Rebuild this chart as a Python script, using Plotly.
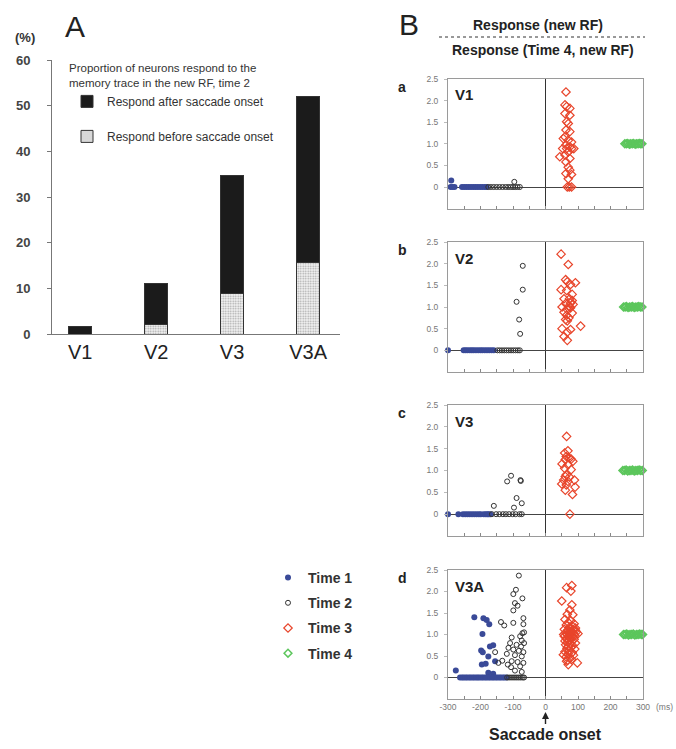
import plotly.graph_objects as go

# ---------------- Panel A data ----------------
REGIONS = ["V1", "V2", "V3", "V3A"]
PCT_TOTAL = [1.7, 11.0, 34.7, 52.1]
PCT_BEFORE = [0.0, 2.1, 8.8, 15.6]
PCT_AFTER = [round(t - b, 2) for t, b in zip(PCT_TOTAL, PCT_BEFORE)]
A_YTICKS = [0, 10, 20, 30, 40, 50, 60]

# ---------------- Panel B data: (ms, normalized response) ----------------
V1_T1 = [(-290, 0.15), (-292, 0), (-286, 0), (-280, 0), (-257, 0), (-250, 0), (-243, 0), (-236, 0),
         (-229, 0), (-222, 0), (-215, 0), (-208, 0), (-201, 0), (-194, 0), (-187, 0), (-181, 0)]
V1_T2 = [(-96, 0.12), (-176, 0), (-168, 0), (-159, 0), (-150, 0), (-141, 0), (-132, 0), (-123, 0),
         (-115, 0), (-107, 0), (-100, 0), (-93, 0), (-86, 0), (-79, 0)]
V1_T3 = [(63, 2.2), (60, 1.9), (65, 1.86), (75, 1.82), (60, 1.7), (75, 1.66), (65, 1.51), (70, 1.47),
         (63, 1.32), (75, 1.28), (60, 1.16), (55, 1.12), (70, 1.08), (80, 1.04), (63, 0.97), (75, 0.93),
         (53, 0.89), (65, 0.89), (80, 0.89), (87, 0.89), (70, 0.81), (60, 0.74), (44, 0.7), (75, 0.66),
         (63, 0.58), (70, 0.46), (75, 0.39), (63, 0.31), (80, 0.29), (70, 0.19), (67, 0), (73, 0), (80, 0)]
V1_T4 = [(244, 1.0), (249, 1.0), (253, 1.01), (258, 0.99), (262, 1.0), (267, 1.0), (271, 1.01),
         (276, 0.99), (280, 1.0), (285, 1.0), (289, 1.01), (293, 1.0), (297, 1.0)]

V2_T1 = [(-300, 0), (-252, 0), (-246, 0), (-240, 0), (-233, 0), (-227, 0), (-221, 0), (-214, 0),
         (-207, 0), (-200, 0), (-194, 0), (-187, 0), (-180, 0), (-173, 0), (-166, 0), (-159, 0)]
V2_T2 = [(-70, 1.95), (-70, 1.4), (-89, 1.12), (-81, 0.71), (-78, 0.38), (-148, 0), (-141, 0),
         (-134, 0), (-127, 0), (-120, 0), (-113, 0), (-106, 0), (-99, 0), (-92, 0), (-85, 0), (-79, 0)]
V2_T3 = [(48, 2.22), (70, 1.98), (62, 1.63), (67, 1.58), (92, 1.56), (77, 1.52), (48, 1.4), (65, 1.38),
         (82, 1.29), (57, 1.19), (74, 1.19), (82, 1.15), (62, 1.08), (77, 1.09), (85, 1.06), (51, 1.0),
         (72, 1.02), (77, 0.98), (75, 1.0), (67, 0.94), (57, 0.88), (82, 0.86), (65, 0.81), (72, 0.75),
         (62, 0.71), (67, 0.68), (51, 0.5), (77, 0.48), (67, 0.42), (108, 0.56), (57, 0.32), (67, 0.23)]
V2_T4 = [(240, 1.0), (245, 1.0), (249, 1.01), (254, 0.99), (259, 1.0), (264, 1.0), (268, 1.01),
         (273, 0.99), (278, 1.0), (283, 1.0), (287, 1.01), (292, 1.0), (297, 1.0)]

V3_T1 = [(-300, 0), (-268, 0), (-254, 0), (-247, 0), (-240, 0), (-233, 0), (-226, 0), (-219, 0),
         (-212, 0), (-205, 0), (-199, 0), (-190, 0), (-184, 0), (-179, 0), (-175, 0), (-170, 0)]
V3_T2 = [(-159, 0.19), (-118, 0.75), (-106, 0.88), (-77, 0.78), (-76, 0.76), (-89, 0.37), (-97, 0.15),
         (-73, 0.25), (-165, 0), (-152, 0), (-142, 0), (-131, 0), (-122, 0), (-112, 0), (-101, 0),
         (-92, 0), (-80, 0), (-73, 0)]
V3_T3 = [(65, 1.78), (69, 1.45), (59, 1.4), (64, 1.32), (74, 1.28), (61, 1.25), (79, 1.26), (84, 1.21),
         (51, 1.15), (69, 1.13), (59, 1.05), (79, 1.02), (64, 0.9), (61, 0.86), (74, 0.85), (56, 0.78),
         (89, 0.78), (69, 0.75), (50, 0.69), (64, 0.67), (91, 0.62), (61, 0.55), (83, 0.45), (75, 0)]
V3_T4 = [(238, 1.0), (243, 1.0), (248, 1.01), (253, 0.99), (258, 1.0), (263, 1.0), (268, 1.01),
         (273, 0.99), (278, 1.0), (283, 1.0), (288, 1.01), (293, 1.0), (298, 1.0)]

V3A_T1 = [(-276, 0.16), (-219, 1.40), (-191, 1.38), (-181, 1.34), (-173, 1.24), (-194, 1.01),
          (-198, 0.63), (-193, 0.59), (-171, 0.72), (-161, 0.75), (-176, 0.49), (-196, 0.30),
          (-184, 0.32), (-155, 0.38), (-176, 0.11), (-161, 0.09),
          (-263, 0), (-257, 0), (-252, 0), (-246, 0), (-241, 0), (-235, 0), (-230, 0), (-224, 0),
          (-219, 0), (-213, 0), (-208, 0), (-203, 0), (-197, 0), (-192, 0), (-186, 0), (-181, 0),
          (-175, 0), (-170, 0), (-164, 0), (-159, 0), (-153, 0), (-148, 0), (-142, 0), (-137, 0),
          (-131, 0), (-126, 0), (-120, 0)]
V3A_T2 = [(-82, 2.37), (-91, 2.04), (-99, 1.94), (-71, 1.84), (-94, 1.73), (-86, 1.67), (-99, 1.56),
          (-68, 1.38), (-137, 1.29), (-127, 1.21), (-99, 1.27), (-68, 1.24), (-71, 1.03), (-66, 1.05),
          (-78, 0.96), (-104, 0.93), (-73, 0.86), (-109, 0.80), (-66, 0.80), (-89, 0.76), (-75, 0.72),
          (-114, 0.69), (-99, 0.65), (-82, 0.62), (-68, 0.59), (-155, 0.59), (-119, 0.55), (-94, 0.52),
          (-73, 0.49), (-133, 0.39), (-145, 0.34), (-104, 0.38), (-86, 0.36), (-68, 0.34), (-116, 0.30),
          (-78, 0.26), (-106, 0.24), (-94, 0.16), (-73, 0.13),
          (-118, 0), (-112, 0), (-106, 0), (-100, 0), (-94, 0), (-88, 0), (-82, 0), (-76, 0), (-70, 0),
          (-66, 0)]
V3A_T3 = [(75, 2.52), (65, 2.09), (81, 2.14), (78, 2.01), (50, 1.78), (81, 1.69), (75, 1.57), (67, 1.47),
          (84, 1.46), (60, 1.35), (78, 1.32), (70, 1.28), (88, 1.25), (64, 1.22), (82, 1.2), (74, 1.17),
          (92, 1.15), (58, 1.12), (68, 1.1), (80, 1.08), (95, 1.06), (62, 1.04), (72, 1.03), (78, 1.02),
          (86, 1.01), (66, 1.0), (74, 0.99), (90, 0.98), (58, 0.96), (70, 0.95), (82, 0.94), (76, 0.92),
          (64, 0.9), (88, 0.89), (72, 0.87), (60, 0.85), (80, 0.84), (68, 0.82), (92, 0.8), (75, 0.78),
          (62, 0.76), (84, 0.74), (70, 0.72), (78, 0.7), (66, 0.68), (90, 0.66), (73, 0.63), (60, 0.6),
          (82, 0.58), (70, 0.55), (86, 0.52), (64, 0.48), (76, 0.45), (80, 0.42), (68, 0.4), (92, 1.1),
          (56, 1.0), (100, 1.02), (84, 1.12), (77, 1.05), (69, 1.06), (73, 0.97), (81, 0.98), (55, 0.53),
          (65, 0.38), (70, 0.30), (98, 0.34)]
V3A_T4 = [(240, 1.0), (245, 1.0), (250, 1.01), (255, 0.99), (260, 1.0), (265, 1.0), (270, 1.01),
          (275, 0.99), (280, 1.0), (285, 1.0), (290, 1.01), (295, 1.0), (299, 1.0)]

PANELS = [
    ("a", "V1", V1_T1, V1_T2, V1_T3, V1_T4),
    ("b", "V2", V2_T1, V2_T2, V2_T3, V2_T4),
    ("c", "V3", V3_T1, V3_T2, V3_T3, V3_T4),
    ("d", "V3A", V3A_T1, V3A_T2, V3A_T3, V3A_T4),
]
MS_TICKS = [-300, -250, -200, -150, -100, -50, 0, 50, 100, 150, 200, 250, 300]
MS_LABELS = ["-300", "", "-200", "", "-100", "", "0", "", "100", "", "200", "", "300"]
RESP_TICKS = [0, 0.5, 1.0, 1.5, 2.0, 2.5]
RESP_LABELS = ["0", "0.5", "1.0", "1.5", "2.0", "2.5"]
TIME_NAMES = ["Time 1", "Time 2", "Time 3", "Time 4"]

W, H = 676, 749
FONT = "Liberation Sans, Arial, sans-serif"


def px(x):
    return x / W


def py(y):
    return 1 - y / H


TIME_STYLE = [
    dict(symbol="circle", color="#3a4a98", size=6, line=dict(width=0)),
    dict(symbol="circle-open", color="#333333", size=5, line=dict(width=1, color="#333333")),
    dict(symbol="diamond-open", color="#e8452b", size=6.5, line=dict(width=1.2, color="#e8452b")),
    dict(symbol="diamond-open", color="#5cc65c", size=6, line=dict(width=1.5, color="#5cc65c")),
]

fig = go.Figure()

# Panel A bars
fig.add_trace(go.Bar(
    x=REGIONS, y=PCT_BEFORE, name="Respond before saccade onset", width=0.3,
    marker=dict(color="#f2f2f2", line=dict(color="#333", width=1),
                pattern=dict(shape=".", fgcolor="#555", bgcolor="#f6f6f6", size=2.5, solidity=0.4)),
    legend="legend", legendrank=2, legendgroup="before", xaxis="x", yaxis="y"))
fig.add_trace(go.Bar(
    x=REGIONS, y=PCT_AFTER, name="Respond after saccade onset", width=0.3,
    marker=dict(color="#1b1b1b", line=dict(color="#333", width=1)),
    legend="legend", legendrank=1, legendgroup="after", xaxis="x", yaxis="y"))

# Panel B scatters
SUB_Y = [(79, 208.6), (242, 372), (405, 536), (570, 699)]
annotations = []


def ann(text, x, y, size, xanchor="center", yanchor="middle", color="#222", **kw):
    d = dict(text=text, x=px(x), y=py(y), xref="paper", yref="paper", showarrow=False,
             xanchor=xanchor, yanchor=yanchor, font=dict(size=size, color=color, family=FONT))
    d.update(kw)
    return d


for i, (letter, region, t1, t2, t3, t4) in enumerate(PANELS):
    k = i + 2
    for j, series in enumerate([t1, t2, t3, t4]):
        st = TIME_STYLE[j]
        fig.add_trace(go.Scatter(
            x=[p[0] for p in series], y=[p[1] for p in series], mode="markers",
            name=TIME_NAMES[j], marker=dict(symbol=st["symbol"], color=st["color"], size=st["size"],
                                             line=st["line"]),
            showlegend=(i == 0), legend="legend2", legendrank=j + 1, legendgroup="t%d" % j,
            xaxis="x%d" % k, yaxis="y%d" % k, cliponaxis=False))
    top, bot = SUB_Y[i]
    last = (i == 3)
    fig.update_layout(**{
        "xaxis%d" % k: dict(domain=[px(448), px(643)], range=[-300, 300], anchor="y%d" % k,
                            showline=True, mirror=True, linecolor="#9a9a9a", linewidth=1,
                            zeroline=True, zerolinecolor="#333", zerolinewidth=1, showgrid=False,
                            tickvals=MS_TICKS, ticktext=MS_LABELS, ticks="inside", ticklen=3,
                            tickcolor="#888", showticklabels=last,
                            tickfont=dict(size=8.5, color="#777", family=FONT)),
        "yaxis%d" % k: dict(domain=[py(bot), py(top)], range=[-0.5, 2.5], anchor="x%d" % k,
                            showline=True, mirror=True, linecolor="#9a9a9a", linewidth=1,
                            zeroline=True, zerolinecolor="#444", zerolinewidth=1, showgrid=False,
                            tickvals=RESP_TICKS, ticktext=RESP_LABELS, ticks="outside", ticklen=3,
                            tickcolor="#bbb", ticklabelstandoff=4,
                            tickfont=dict(size=8.5, color="#777", family=FONT)),
    })
    annotations.append(ann("<b>%s</b>" % letter, 402, top + 8, 14))
    annotations.append(ann("<b>%s</b>" % region, 453, top + 16, 15, xanchor="left"))

annotations += [
    ann("A", 75, 27, 30),
    ann("<b>(%)</b>", 25, 37, 13, color="#333"),
    ann("B", 409, 24, 30),
    ann("<b>Response (new RF)</b>", 538, 25, 14),
    ann("<b>Response (Time 4, new RF)</b>", 543, 50, 14),
    ann("(ms)", 654, 707, 8.5, xanchor="left", color="#777"),
    ann("<b>Saccade onset</b>", 545.5, 712, 16, showarrow=True, ax=0, ay=22, arrowhead=2,
        arrowsize=1, arrowwidth=1.4, arrowcolor="#222"),
]

shapes = [
    dict(type="line", xref="paper", yref="paper", x0=px(439), x1=px(645), y0=py(37), y1=py(37),
         line=dict(color="#333", width=1, dash="dot")),
]

fig.update_layout(
    width=W, height=H, margin=dict(l=0, r=0, t=0, b=0, autoexpand=False),
    paper_bgcolor="white", plot_bgcolor="rgba(0,0,0,0)",
    barmode="stack", bargap=0.6,
    font=dict(family=FONT, color="#333"),
    xaxis=dict(domain=[px(52), px(340)], anchor="y", range=[-0.37, 3.42], showline=True,
               linecolor="#777", linewidth=1, ticks="", showgrid=False, zeroline=False,
               tickfont=dict(size=20, color="#222", family=FONT)),
    yaxis=dict(domain=[py(334), py(60)], anchor="x", range=[0, 60], showline=True,
               linecolor="#777", linewidth=1, ticks="outside", ticklen=4, tickcolor="#777",
               tickvals=A_YTICKS, showgrid=False, zeroline=False, ticklabelstandoff=14,
               tickfont=dict(size=13, color="#444", family=FONT, weight="bold")),
    legend=dict(x=px(67), y=py(57), xanchor="left", yanchor="top", bgcolor="rgba(0,0,0,0)",
                title=dict(text="Proportion of neurons respond to the<br>memory trace in the new RF, time 2",
                           font=dict(size=11.5, color="#333", family=FONT), side="top"),
                font=dict(size=12, color="#333", family=FONT), tracegroupgap=16),
    legend2=dict(x=px(268), y=py(562), xanchor="left", yanchor="top", bgcolor="rgba(0,0,0,0)",
                 font=dict(size=14, color="#333", family=FONT, weight="bold"), tracegroupgap=4),
    annotations=annotations, shapes=shapes,
)

fig.write_html("out.html")
